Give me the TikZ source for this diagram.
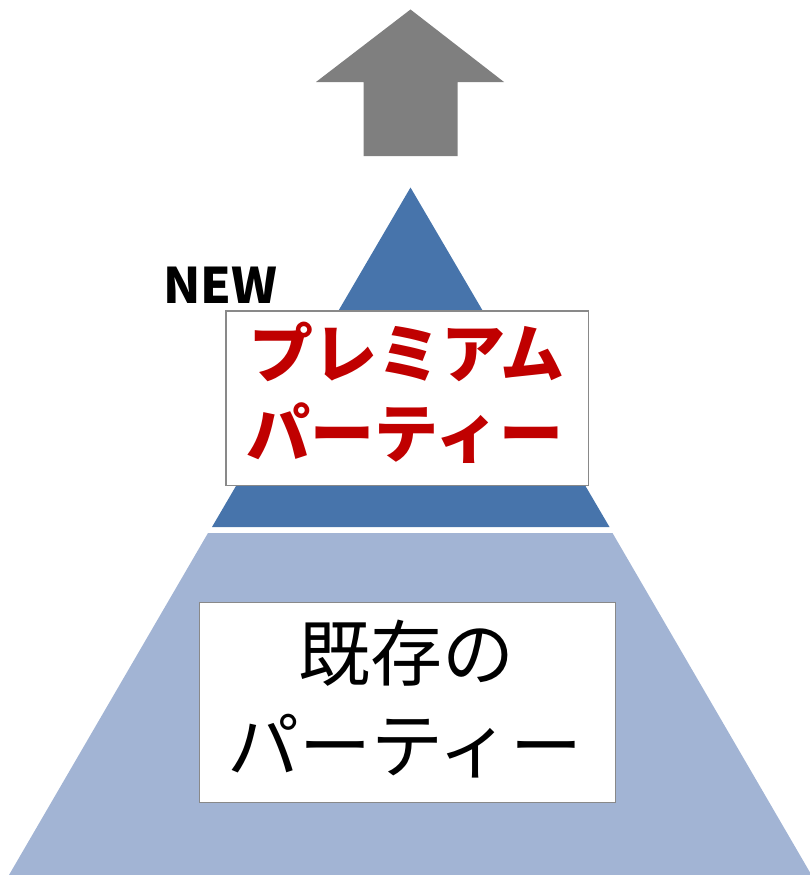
\documentclass[tikz,border=0pt]{standalone}
\usepackage{fontspec}
\newfontfamily\cjk{Noto Sans CJK JP}
\definecolor{arrowgray}{RGB}{127,127,127}
\definecolor{topblue}{RGB}{71,116,171}
\definecolor{basefill}{RGB}{162,180,212}
\definecolor{boxline}{RGB}{137,137,137}
\definecolor{premred}{RGB}{192,0,0}
\tikzset{
  labelbox/.style={draw=boxline, fill=white, line width=1.3pt, inner sep=0pt},
  redtext/.style={text=premred, font=\cjk\bfseries\fontsize{64}{64}\selectfont, anchor=base, inner sep=0pt},
  blacktext/.style={text=black, font=\cjk\fontsize{72}{72}\selectfont, anchor=base, inner sep=0pt},
  newtext/.style={text=black, font=\cjk\bfseries\fontsize{49}{49}\selectfont, anchor=base, inner sep=0pt}
}
\begin{document}
\begin{tikzpicture}[x=1pt,y=-1pt]
\useasboundingbox (0,0) rectangle (809,875);
% arrow
\fill[arrowgray] (410.5,9.5) -- (504,82) -- (457.5,82) -- (457.5,156) -- (363.5,156) -- (363.5,82) -- (316,82) -- cycle;
% top triangle
\fill[topblue] (410.5,187.5) -- (609.5,527) -- (212,527) -- cycle;
% base trapezoid
\fill[basefill] (208,533) -- (612.5,533) -- (811.5,875) -- (9,875) -- cycle;
% boxes
\node[labelbox, minimum width=362.5pt, minimum height=174.5pt] (premiumbox) at (407.25,398.25) {};
\node[labelbox, minimum width=416pt, minimum height=200pt] (existbox) at (407.5,702.5) {};
% texts
\node[newtext] (new) at (220.5,303) {NEW};
\node[redtext] (prem1) at (407,377) {プレミアム};
\node[redtext] (prem2) at (405,457) {パーティー};
\node[blacktext] (exist1) at (406,680) {既存の};
\node[blacktext] (exist2) at (405,772) {パーティー};
\end{tikzpicture}
\end{document}
